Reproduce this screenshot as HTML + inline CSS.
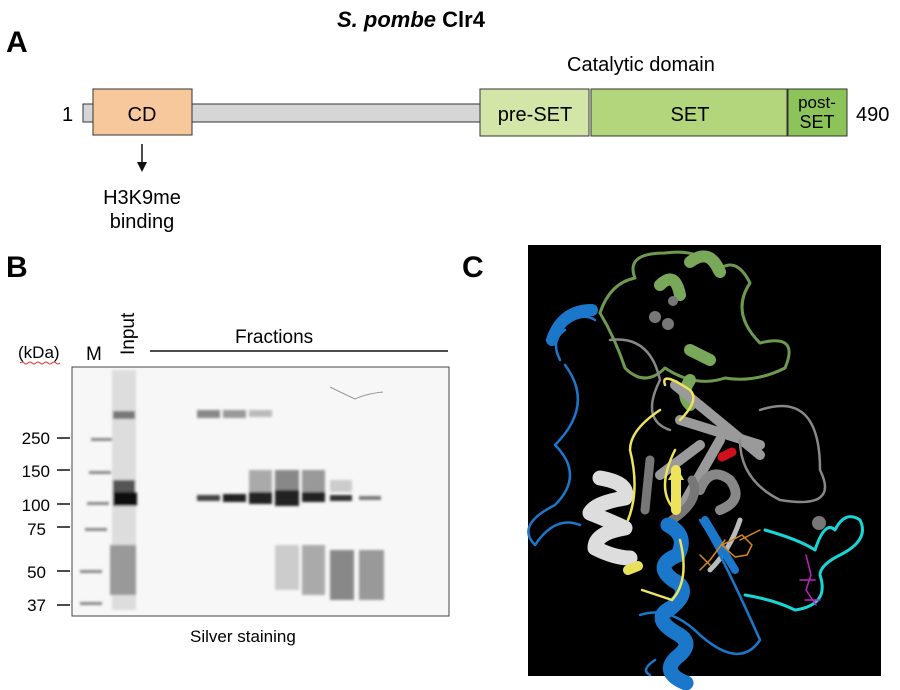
<!DOCTYPE html>
<html><head><meta charset="utf-8"><style>
body{margin:0;background:#fff;width:900px;height:690px;position:relative;overflow:hidden;font-family:"Liberation Sans",Helvetica,Arial,sans-serif;color:#111}
.t{position:absolute;white-space:nowrap}
</style></head><body>
<svg width="900" height="690" style="position:absolute;left:0;top:0" font-family="Liberation Sans, Arial, sans-serif">
<!-- Panel A -->
<text x="6" y="52" font-size="30" font-weight="bold">A</text>
<text x="337" y="27" font-size="22" font-weight="bold" transform="translate(0,0)"><tspan font-style="italic">S. pombe</tspan> Clr4</text>
<text x="567" y="71" font-size="20">Catalytic domain</text>
<text x="62" y="121" font-size="20">1</text>
<rect x="83" y="104" width="400" height="18" fill="#d6d6d6" stroke="#333" stroke-width="1"/>
<rect x="93" y="89" width="99" height="46" fill="#f8c89d" stroke="#333" stroke-width="1"/>
<text x="142" y="121" font-size="20" text-anchor="middle">CD</text>
<rect x="480" y="89" width="109" height="47" fill="#d3e6a7" stroke="#333" stroke-width="1"/>
<text x="535" y="121" font-size="20" text-anchor="middle">pre-SET</text>
<rect x="591" y="89" width="196" height="47" fill="#b3d67c" stroke="#333" stroke-width="1"/>
<text x="690" y="121" font-size="20" text-anchor="middle">SET</text>
<rect x="788" y="89" width="59" height="47" fill="#8dc45a" stroke="#333" stroke-width="1"/>
<text x="817" y="108" font-size="17" text-anchor="middle">post-</text>
<text x="817" y="128" font-size="18" text-anchor="middle">SET</text>
<text x="856" y="121" font-size="20">490</text>
<line x1="142" y1="144" x2="142" y2="166" stroke="#111" stroke-width="1.5"/>
<path d="M137,162 L142,172 L147,162 Z" fill="#111"/>
<text x="142" y="204" font-size="20" text-anchor="middle">H3K9me</text>
<text x="142" y="228" font-size="20" text-anchor="middle">binding</text>
<!-- Panel B -->
<text x="6" y="277" font-size="30" font-weight="bold">B</text>
<text x="18" y="358" font-size="17">(kDa)</text>
<path d="M20,363 q2,-2 4,0 t4,0 t4,0 t4,0 t4,0 t4,0 t4,0 t4,0 t4,0 t4,0" stroke="#e33" fill="none" stroke-width="1"/>
<text x="86" y="360" font-size="19">M</text>
<text transform="translate(134,355) rotate(-90)" font-size="19">Input</text>
<text x="235" y="343" font-size="19">Fractions</text>
<line x1="150" y1="351" x2="448" y2="351" stroke="#111" stroke-width="1.5"/>
<rect x="72" y="367" width="377" height="249" fill="#f7f7f7" stroke="#444" stroke-width="1"/>
<defs>
<linearGradient id="lane" x1="0" y1="0" x2="0" y2="1">
<stop offset="0" stop-color="#eee"/><stop offset="1" stop-color="#f5f5f5"/></linearGradient>
<filter id="bl"><feGaussianBlur stdDeviation="1.2"/></filter>
</defs>
<g filter="url(#bl)">
<!-- marker -->
<g fill="#888"><rect x="91" y="438" width="22" height="3"/><rect x="89" y="471" width="22" height="3"/><rect x="87" y="502" width="22" height="3"/><rect x="85" y="528" width="22" height="3"/><rect x="80" y="570" width="22" height="3"/><rect x="80" y="602" width="22" height="3"/></g>
<!-- input -->
<rect x="112" y="370" width="24" height="240" fill="#ddd"/>
<rect x="113" y="411" width="22" height="8" fill="#777"/>
<rect x="113" y="480" width="22" height="20" fill="#555"/>
<rect x="113" y="492" width="24" height="14" fill="#111"/>
<rect x="110" y="545" width="26" height="50" fill="#999"/>
<!-- fractions -->
<g>
<rect x="197" y="410" width="23" height="8" fill="#888"/><rect x="197" y="495" width="23" height="6" fill="#444"/>
<rect x="223" y="410" width="23" height="8" fill="#999"/><rect x="223" y="494" width="23" height="8" fill="#222"/>
<rect x="249" y="410" width="23" height="7" fill="#bbb"/><rect x="249" y="470" width="23" height="24" fill="#aaa"/><rect x="249" y="492" width="23" height="12" fill="#222"/>
<rect x="275" y="470" width="24" height="24" fill="#888"/><rect x="275" y="490" width="24" height="16" fill="#222"/>
<rect x="302" y="470" width="23" height="22" fill="#999"/><rect x="302" y="492" width="23" height="10" fill="#222"/>
<rect x="330" y="495" width="22" height="6" fill="#333"/><rect x="330" y="480" width="22" height="12" fill="#ccc"/>
<rect x="359" y="496" width="22" height="4" fill="#777"/>
<rect x="275" y="545" width="24" height="45" fill="#ccc"/>
<rect x="302" y="545" width="23" height="50" fill="#aaa"/>
<rect x="330" y="550" width="24" height="50" fill="#888"/>
<rect x="359" y="550" width="25" height="50" fill="#999"/>
</g>
</g>
<path d="M330,387 q10,5 25,12 q10,-5 28,-7" stroke="#999" fill="none"/>
<g font-size="17" text-anchor="end"><text x="50" y="444">250</text><text x="50" y="477">150</text><text x="50" y="511">100</text><text x="46" y="535">75</text><text x="46" y="578">50</text><text x="46" y="611">37</text></g>
<g stroke="#111" stroke-width="1.5"><line x1="57" y1="438" x2="70" y2="438"/><line x1="57" y1="470" x2="70" y2="470"/><line x1="57" y1="504" x2="70" y2="504"/><line x1="57" y1="527" x2="70" y2="527"/><line x1="57" y1="571" x2="70" y2="571"/><line x1="57" y1="605" x2="70" y2="605"/></g>
<text x="190" y="642" font-size="17">Silver staining</text>
<!-- Panel C -->
<text x="462" y="277" font-size="30" font-weight="bold">C</text>
<rect x="528" y="245" width="353" height="431" fill="#000"/>
<g fill="none" stroke-linecap="round" stroke-linejoin="round">
<!-- green -->
<path d="M600,313 q10,-30 35,-35 q-10,-25 30,-25 q40,-5 50,20 q20,-20 35,10 q-20,30 10,60 q40,-10 25,25 q-30,15 -60,10 q-30,10 -60,-10 q-20,20 -40,0 q-10,-30 -25,-55" stroke="#6e9a4f" stroke-width="3"/>
<path d="M660,285 q15,-15 20,10 M690,262 q20,-15 30,10" stroke="#7aa85a" stroke-width="12"/>
<path d="M690,350 l20,10 M690,380 q-10,15 0,25" stroke="#7aa85a" stroke-width="12"/>
<!-- gray sheets -->
<path d="M675,385 l85,70 M680,420 l80,25 M700,445 l-40,30 M720,440 l-40,70" stroke="#9a9a9a" stroke-width="10"/>
<path d="M610,340 q40,-5 50,40 q-20,40 10,50 M760,410 q60,-20 60,60 q20,40 -40,30 q-40,-20 -40,-60" stroke="#888" stroke-width="2.5"/>
<path d="M700,490 q10,-25 30,-10 q15,20 -10,30" stroke="#888" stroke-width="10"/>
<path d="M740,520 q-10,30 -30,50" stroke="#bbb" stroke-width="5"/>
<path d="M650,460 l-5,50 M672,520 q30,-20 20,-40" stroke="#777" stroke-width="9"/>
<!-- blue -->
<path d="M560,330 q20,-20 35,-10 M560,360 q-10,-20 5,-30 M565,365 q30,40 -10,80 q30,30 0,60 q-40,20 -20,40 q20,-30 45,-20" stroke="#1a77c9" stroke-width="2.5"/>
<path d="M552,340 q10,-30 40,-30" stroke="#1a77c9" stroke-width="12"/>
<path d="M668,525 q20,10 10,30 q-25,10 -5,25 q20,10 -2,28 q-20,10 5,25 q20,10 0,25 q-15,15 10,25" stroke="#1a77c9" stroke-width="15"/>
<path d="M655,660 q-15,10 -5,15 M700,520 q20,30 60,120 q-20,30 -60,-5 q-30,-30 -60,-20" stroke="#1a77c9" stroke-width="2.5"/>
<path d="M705,520 l30,50" stroke="#1a77c9" stroke-width="8"/>
<!-- white helix -->
<path d="M600,478 q30,5 25,20 q-30,5 -35,15 q25,10 35,15 q-30,5 -30,20 q20,10 35,10" stroke="#ddd" stroke-width="15"/>
<path d="M628,570 l10,-4" stroke="#e6e05a" stroke-width="10"/>
<!-- yellow -->
<path d="M660,410 q-30,20 -30,40 q10,40 -2,70 M680,420 q20,-20 10,-30 q-30,-20 -25,-5 M675,450 q-20,40 0,60 M680,540 q10,40 -8,60 l-30,-10" stroke="#eee35c" stroke-width="2.5"/>
<path d="M676,510 l0,-40" stroke="#eee35c" stroke-width="10"/>
<path d="M668,480 l8,-15 l8,15 Z" fill="#eee35c"/>
<!-- cyan -->
<path d="M765,530 q35,10 50,20 q10,-30 20,-20 q10,-20 25,-10 q10,20 -20,35 q-20,10 -20,20 q10,30 -25,35 q-20,-10 -50,-15" stroke="#19d6d6" stroke-width="3"/>
<!-- red -->
<path d="M722,457 l10,-5" stroke="#d0101c" stroke-width="9"/>
<!-- orange / magenta -->
<path d="M722,545 l20,-10 l10,10 l-5,10 l-12,2 z M725,540 l-15,20 l-10,10 M700,555 l10,10 M740,540 l20,-10" stroke="#d88a18" stroke-width="1.5"/>
<path d="M806,555 l5,20 l-5,15 l10,15 M800,580 l15,0 M805,600 l15,0" stroke="#c022c0" stroke-width="1.5"/>
</g>
<g fill="#777"><circle cx="673" cy="301" r="5"/><circle cx="655" cy="317" r="6"/><circle cx="668" cy="324" r="6"/><circle cx="819" cy="523" r="7"/></g>
</svg>
</body></html>
